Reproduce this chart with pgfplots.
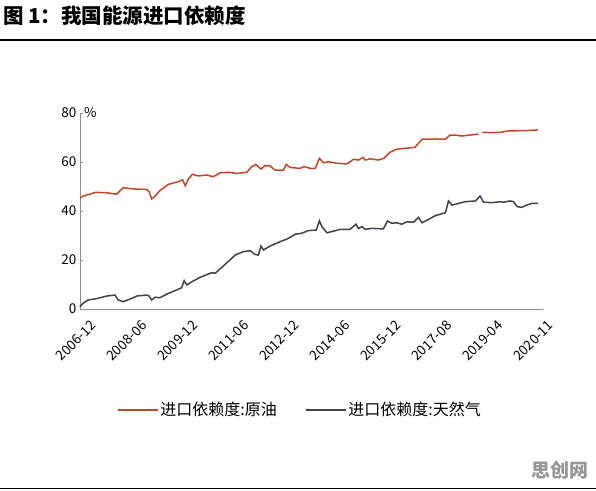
\documentclass[border=0pt]{standalone}
\usepackage{fontspec}
\setmainfont{Noto Sans CJK SC}
\usepackage{pgfplots}
\pgfplotsset{compat=1.18}
\definecolor{oil}{RGB}{190,70,42}
\definecolor{gas}{RGB}{62,66,82}
\definecolor{axgray}{RGB}{140,140,140}
\definecolor{wm}{RGB}{150,150,150}
\begin{document}
\begin{tikzpicture}[x=1pt,y=1pt]
\path[use as bounding box] (0,0) rectangle (596,490);
\node[anchor=west,inner sep=0pt,font=\fontsize{20.5}{20.5}\selectfont\bfseries] at (3,474) {图 1：我国能源进口依赖度};
\draw[line width=1.5pt] (0,450) -- (596,450);
\draw[line width=1pt] (0,2) -- (596,2);
\node[text=wm,inner sep=0pt,font=\fontsize{19}{19}\selectfont\bfseries] at (560,20) {思创网};
\begin{axis}[
  at={(80pt,181pt)}, anchor=south west, scale only axis,
  width=463pt, height=196pt,
  xmin=0, xmax=9.11, ymin=0, ymax=80,
  axis lines*=left,
  axis line style={axgray, line width=1pt},
  ytick={0,20,...,80},
  xtick={0,...,9},
  xticklabels={2006-12,2008-06,2009-12,2011-06,2012-12,2014-06,2015-12,2017-08,2019-04,2020-11},
  xtick style={draw=none},
  ytick style={axgray, line width=0.8pt},
  tick align=inside, major tick length=3pt,
  /pgf/number format/assume math mode=true,
  tick label style={font=\fontsize{13.5}{13.5}\selectfont},
  xticklabel style={rotate=45, anchor=north east, xshift=3pt, yshift=-11pt},
  unbounded coords=jump,
  legend style={at={(0.475,-0.515)}, anchor=center, draw=none, legend columns=2,
    font=\fontsize{16}{16}\selectfont,
    /tikz/every even column/.append style={column sep=26pt}},
  legend image code/.code={\draw[#1] (0pt,0pt) -- (40pt,0pt);},
  clip=false,
]
\node[anchor=west,inner sep=0pt,font=\fontsize{13.5}{13.5}\selectfont] at (rel axis cs:0,1) [xshift=4pt] {\%};
\addplot[oil, line width=1.5pt] coordinates {
(0.00,45.2)(0.06,46.1)(0.20,46.9)(0.30,47.6)(0.49,47.5)(0.72,46.9)(0.85,49.5)(1.05,49.0)
(1.31,48.8)(1.36,47.9)(1.41,44.9)(1.48,46.1)(1.57,48.3)(1.74,50.9)(1.94,52.0)(2.02,52.7)
(2.07,50.3)(2.13,52.9)(2.21,55.0)(2.33,54.3)(2.49,54.7)(2.62,54.0)(2.76,55.6)(2.95,55.8)
(3.08,55.3)(3.28,55.8)(3.38,58.1)(3.46,59.0)(3.56,57.1)(3.64,58.5)(3.74,58.4)(3.84,56.7)
(4.00,56.7)(4.06,59.0)(4.13,57.8)(4.33,57.4)(4.41,58.1)(4.53,57.4)(4.63,57.4)(4.71,61.5)
(4.79,59.7)(4.89,60.1)(5.05,59.5)(5.25,59.2)(5.38,61.1)(5.48,60.8)(5.57,61.9)(5.61,60.8)
(5.71,61.3)(5.87,60.8)(5.98,61.5)(6.10,64.0)(6.23,65.2)(6.40,65.6)(6.59,66.0)(6.73,69.3)
(6.99,69.4)(7.19,69.3)(7.28,71.0)(7.38,71.0)(7.51,70.6)(7.84,71.4)(7.875,nan)(7.91,72.1)
(8.10,72.0)(8.27,72.1)(8.43,72.7)(8.76,72.8)(9.01,73.1)
};
\addlegendentry{进口依赖度:原油}
\addplot[gas, line width=1.5pt] coordinates {
(0.00,0.9)(0.06,2.3)(0.16,3.7)(0.26,4.0)(0.36,4.4)(0.53,5.3)(0.69,5.7)(0.75,3.7)
(0.85,3.0)(0.98,4.0)(1.12,5.3)(1.31,5.7)(1.36,5.3)(1.41,3.7)(1.48,4.8)(1.57,4.6)
(1.74,6.4)(1.87,7.5)(2.00,8.7)(2.05,11.6)(2.10,9.8)(2.20,11.1)(2.36,12.9)(2.59,14.8)
(2.66,14.6)(2.79,17.0)(2.95,20.0)(3.05,22.0)(3.21,23.4)(3.35,23.8)(3.44,22.3)(3.51,22.0)
(3.56,25.7)(3.61,24.1)(3.74,25.7)(3.94,27.5)(4.10,28.8)(4.23,30.5)(4.36,30.9)(4.49,32.0)
(4.65,32.2)(4.71,36.0)(4.76,33.6)(4.86,31.1)(4.99,31.8)(5.12,32.5)(5.31,32.5)(5.43,34.6)
(5.48,32.9)(5.55,33.6)(5.61,32.5)(5.74,32.9)(5.97,32.7)(6.05,35.9)(6.13,35.0)(6.23,35.2)
(6.33,34.6)(6.43,35.6)(6.56,35.4)(6.66,37.4)(6.73,35.2)(6.86,36.6)(6.99,38.1)(7.19,39.3)
(7.25,44.1)(7.32,42.4)(7.45,43.1)(7.58,43.8)(7.78,44.1)(7.87,46.1)(7.94,43.6)(8.10,43.4)
(8.27,43.8)(8.33,43.6)(8.46,44.1)(8.53,43.8)(8.60,41.8)(8.69,41.5)(8.79,42.4)(8.89,43.1)
(9.01,43.1)
};
\addlegendentry{进口依赖度:天然气}
\end{axis}
\end{tikzpicture}
\end{document}
